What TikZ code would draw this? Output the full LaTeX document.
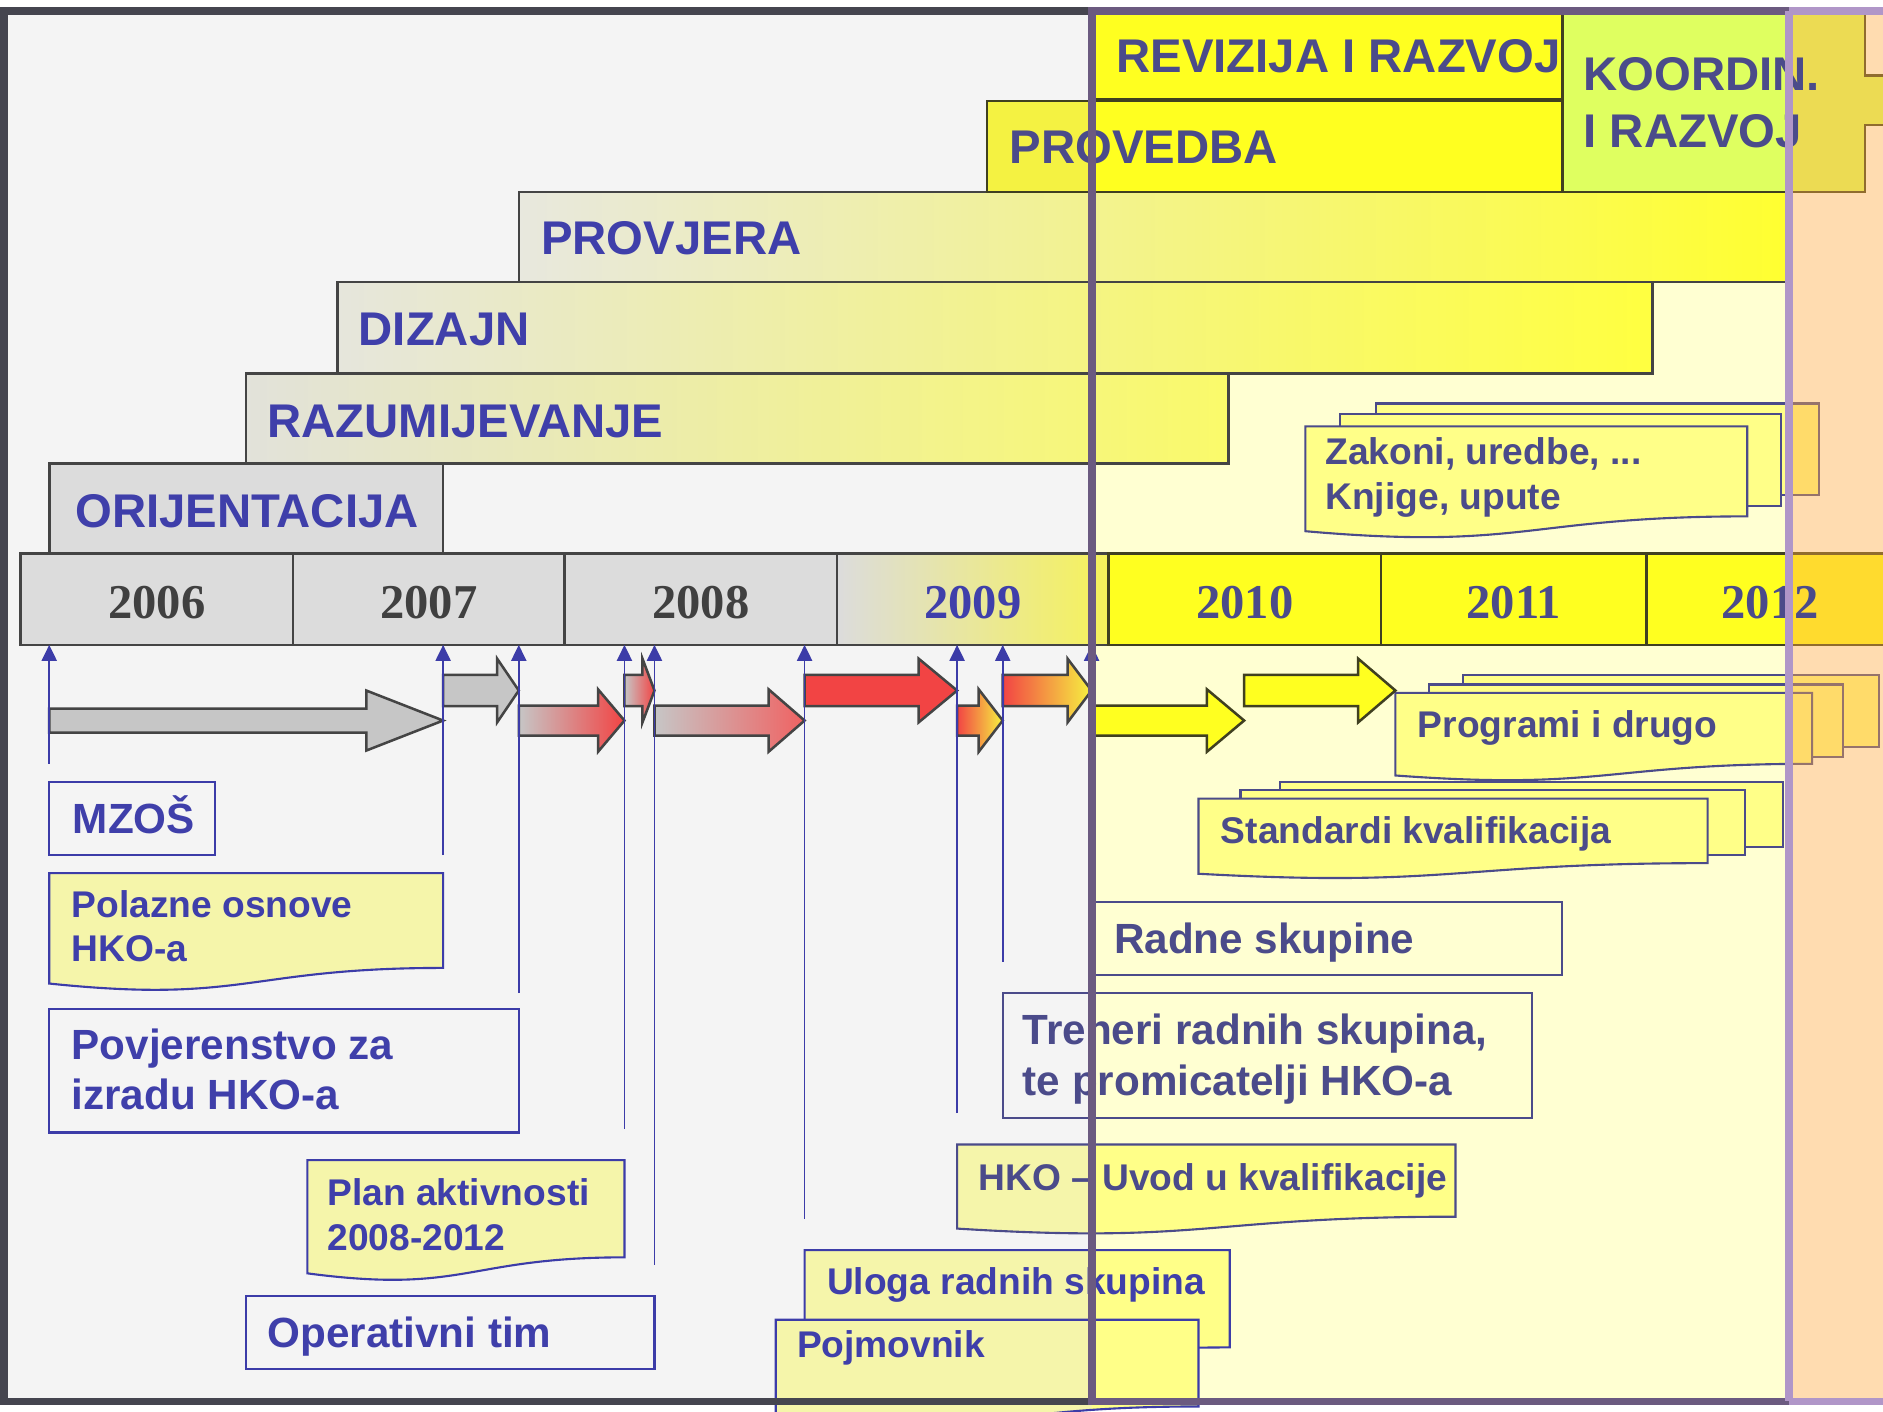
\documentclass[tikz,border=0pt]{standalone}
\usepackage{fontspec}
\setsansfont{Liberation Sans}
\newfontfamily\yearfont{Liberation Serif}
\usetikzlibrary{arrows.meta}

\definecolor{txtblue}{HTML}{3F3FAA}
\definecolor{txtslate}{HTML}{4B4B8A}
\definecolor{lineblue}{HTML}{3C3CA8}
\definecolor{yeargray}{HTML}{404040}
\definecolor{bargray}{HTML}{DCDCDC}
\definecolor{edgegray}{HTML}{444444}
\definecolor{edgeolive}{HTML}{404020}
\definecolor{leftbg}{HTML}{F4F4F4}
\definecolor{rightbg}{HTML}{FFFFD2}
\definecolor{hiyellow}{HTML}{FFFF20}
\definecolor{paleyellow}{HTML}{F4F242}
\definecolor{koordgreen}{HTML}{DFFF60}
\definecolor{docleft}{HTML}{F5F5AA}
\definecolor{docright}{HTML}{FFFF88}
\definecolor{arrowgray}{HTML}{C6C6C6}
\definecolor{arrowred}{HTML}{F24444}
\definecolor{salmon}{HTML}{F06262}
\definecolor{arroworange}{HTML}{F4A040}
\definecolor{arrowyellow}{HTML}{F6F240}
\definecolor{peach}{HTML}{FFAB42}
\definecolor{framegray}{HTML}{45454F}
\definecolor{framepurple}{HTML}{6B5A80}
\definecolor{framelilac}{HTML}{B096C8}
% phase shadings
\definecolor{provjA}{HTML}{E8E8DE}
\definecolor{provjB}{HTML}{F2F2B6}
\definecolor{provjC}{HTML}{FFFF30}
\definecolor{dizA}{HTML}{E6E6DC}
\definecolor{dizB}{HTML}{EDEDC2}
\definecolor{dizC}{HTML}{FFFF40}
\definecolor{razA}{HTML}{E2E2DA}
\definecolor{razB}{HTML}{E8E8CA}
\definecolor{razC}{HTML}{FAFA6A}
\definecolor{yrA}{HTML}{DCDCDC}
\definecolor{yrB}{HTML}{E4E4C8}
\definecolor{yrC}{HTML}{F6F25A}

% document shape: x, y (top left), width, height, options
\newcommand{\docbox}[5]{\path[#5] (#1,#2) -- ({#1+#3},#2) -- ({#1+#3},{#2+0.802*#4})
  .. controls ({#1+0.5*#3},{#2+0.802*#4}) and ({#1+0.5*#3},{#2+1.107*#4}) .. (#1,{#2+0.934*#4}) -- cycle;}
% block arrow: start x, tip x, head x, mid y, half shaft, half head, options
\newcommand{\blockarrow}[7]{\path[#7] (#1,{#4-#5}) -- (#3,{#4-#5}) -- (#3,{#4-#6}) -- (#2,#4)
  -- (#3,{#4+#6}) -- (#3,{#4+#5}) -- (#1,{#4+#5}) -- cycle;}

\begin{document}
\begin{tikzpicture}[x=0.01cm, y=-0.01cm,
  bar/.style={draw=edgegray, line width=0.6pt},
  newbar/.style={draw=edgeolive, line width=0.6pt},
  yearcell/.style={draw=edgegray, line width=0.6pt, anchor=west, inner sep=0, minimum height=0.76cm},
  yeartxt/.style={anchor=base, inner sep=0, text=yeargray, font=\yearfont\bfseries\fontsize{11.5}{13}\selectfont},
  phasetxt/.style={anchor=base west, inner sep=0, text=txtblue, font=\sffamily\bfseries\fontsize{11.2}{13}\selectfont},
  boxtxt/.style={anchor=base west, inner sep=0, text=txtblue, font=\sffamily\bfseries\fontsize{10}{12}\selectfont},
  doctxt/.style={anchor=base west, inner sep=0, text=txtblue, font=\sffamily\bfseries\fontsize{8.8}{10.5}\selectfont},
  textframe/.style={draw=lineblue, line width=0.5pt},
  newframe/.style={draw=txtslate, line width=0.5pt},
  tickline/.style={lineblue, line width=0.4pt, -{Triangle[length=3.8pt,width=3.6pt]}},
  frameline/.style={line width=0.065cm}]

\path[use as bounding box, clip] (0,0) rectangle (1568,1175);

% backgrounds
\fill[leftbg] (3.5,9) rectangle (909,1167);
\fill[rightbg] (909,9) rectangle (1490,1167);

% phases
\draw[bar, left color=provjA, middle color=provjB, right color=provjC] (432,160) rectangle (1490,235);
\draw[bar, left color=dizA, middle color=dizB, right color=dizC] (281,235) rectangle (1376,311);
\draw[bar, left color=razA, middle color=razB, right color=razC] (205,311) rectangle (1023,386);
\draw[bar, fill=bargray] (41,386) rectangle (369,461);
\fill[hiyellow] (822,84) rectangle (1301,160);
\fill[paleyellow] (822,84) rectangle (909,160);
\draw[newbar] (822,84) rectangle (1301,160);
\draw[newbar, fill=hiyellow] (909,10) rectangle (1301,83);
\draw[newbar, fill=koordgreen] (1301,10) -- (1553,10) -- (1553,63) -- (1600,63) -- (1600,104)
  -- (1553,104) -- (1553,160) -- (1301,160) -- cycle;

% years
\node[yearcell, fill=bargray, minimum width=2.27cm] (y2006) at (16,499) {};
\node[yearcell, fill=bargray, minimum width=2.26cm] (y2007) at (243,499) {};
\node[yearcell, fill=bargray, minimum width=2.27cm] (y2008) at (469,499) {};
\node[yearcell, left color=yrA, middle color=yrB, right color=yrC, minimum width=2.26cm] (y2009) at (696,499) {};
\node[yearcell, draw=edgeolive, fill=hiyellow, minimum width=2.27cm] (y2010) at (922,499) {};
\node[yearcell, draw=edgeolive, fill=hiyellow, minimum width=2.21cm] (y2011) at (1149,499) {};
\node[yearcell, draw=edgeolive, fill=hiyellow, minimum width=2.06cm] (y2012) at (1370,499) {};

% stacked papers
\draw[newframe, fill=docright] (1146,336) rectangle (1515,412);
\draw[newframe, fill=docright] (1116,345) rectangle (1483,421);
\docbox{1087}{355}{368}{93.5}{newframe, fill=docright}
\draw[newframe, fill=docright] (1218,562) rectangle (1565,622);
\draw[newframe, fill=docright] (1190,570) rectangle (1535,630);
\docbox{1162}{577}{347}{73.6}{newframe, fill=docright}
\draw[newframe, fill=docright] (1066,651) rectangle (1485,705);
\draw[newframe, fill=docright] (1033,658) rectangle (1453,712);
\docbox{998}{665}{424}{67}{newframe, fill=docright}

% documents on the left
\docbox{41}{727}{328}{98.5}{textframe, fill=docleft}
\docbox{256}{966}{264}{101}{textframe, fill=docleft}

% documents across the line
\docbox{797}{953}{415}{75}{fill=docright}
\begin{scope}
\clip (600,900) rectangle (909,1200);
\docbox{797}{953}{415}{75}{fill=docleft}
\end{scope}
\docbox{797}{953}{415}{75}{newframe}
\docbox{670}{1041}{354}{101}{fill=docright}
\begin{scope}
\clip (600,900) rectangle (909,1200);
\docbox{670}{1041}{354}{101}{fill=docleft}
\end{scope}
\docbox{670}{1041}{354}{101}{textframe}
\docbox{646}{1099}{352}{90}{fill=docright}
\begin{scope}
\clip (600,900) rectangle (909,1200);
\docbox{646}{1099}{352}{90}{fill=docleft}
\end{scope}
\docbox{646}{1099}{352}{90}{textframe}

% arrows, upper row
\blockarrow{369}{432}{414}{575}{13}{26.5}{bar, fill=arrowgray}
\blockarrow{520}{545}{535}{575}{13}{26.5}{bar, left color=arrowgray, right color=arrowred}
\blockarrow{670}{797}{765}{575}{13}{26.5}{bar, fill=arrowred}
\blockarrow{835}{909}{889}{575}{13}{26.5}{bar, left color=arrowred, middle color=arroworange, right color=arrowyellow}
\blockarrow{1036}{1162}{1131}{575}{13}{26.5}{newbar, fill=hiyellow}
% arrows, lower row
\blockarrow{41}{369}{305}{600}{10}{25}{bar, fill=arrowgray}
\blockarrow{432}{520}{498}{600}{12.5}{26}{bar, left color=arrowgray, right color=arrowred}
\blockarrow{545}{670}{640}{600}{12.5}{26}{bar, left color=arrowgray, right color=salmon}
\blockarrow{797}{835}{815}{600}{12.5}{26}{bar, left color=arrowred, middle color=arroworange, right color=arrowyellow}
\blockarrow{909}{1036}{1005}{600}{12.5}{26}{newbar, fill=hiyellow}

% milestones
\foreach \x/\y [count=\i] in {41/636, 369/712, 432/827, 520/940, 545/1053, 670/1015, 797/927, 835/801, 909/726}{
  \coordinate (yb\i) at (\x,537);
  \coordinate (lend\i) at (\x,\y);
  \draw[tickline] (lend\i) -- (yb\i);
}

% plain boxes
\draw[textframe] (41,651) rectangle (179,712);
\draw[textframe] (41,840) rectangle (432,943);
\draw[textframe] (205,1079) rectangle (545,1140);
\draw[newframe] (909,751) rectangle (1301,812);
\draw[newframe] (835,827) rectangle (1276,931);

% far right column
\fill[peach, opacity=0.42] (1490,9) rectangle (1568,1167);

% labels
\node[phasetxt] (orij) at (62,439) {ORIJENTACIJA};
\node[phasetxt] (razum) at (222,364) {RAZUMIJEVANJE};
\node[phasetxt] (dizajn) at (298,288) {DIZAJN};
\node[phasetxt] (provj) at (450,212) {PROVJERA};
\node[phasetxt, text=txtslate] (proved) at (840,136.5) {PROVEDBA};
\node[phasetxt, text=txtslate] (reviz) at (929,60) {REVIZIJA I RAZVOJ};
\node[phasetxt, text=txtslate] (koord) at (1318,75) {KOORDIN.};
\node[phasetxt, text=txtslate] (koordb) at (1318,123) {I RAZVOJ};

\node[yeartxt] (t2006) at ([yshift=-0.16cm]y2006.center) {2006};
\node[yeartxt] (t2007) at ([yshift=-0.16cm]y2007.center) {2007};
\node[yeartxt] (t2008) at ([yshift=-0.16cm]y2008.center) {2008};
\node[yeartxt, text=txtblue] (t2009) at ([yshift=-0.16cm]y2009.center) {2009};
\node[yeartxt, text=txtslate] (t2010) at ([yshift=-0.16cm]y2010.center) {2010};
\node[yeartxt, text=txtslate] (t2011) at ([yshift=-0.16cm]y2011.center) {2011};
\node[yeartxt, text=txtslate] (t2012) at ([yshift=-0.16cm]y2012.center) {2012};

\node[boxtxt] (mzos) at (60,694) {MZOŠ};
\node[doctxt] (polaz) at (59,764) {Polazne osnove};
\node[doctxt] (polazb) at (59,801) {HKO-a};
\node[boxtxt] (povj) at (59,882) {Povjerenstvo za};
\node[boxtxt] (povjb) at (59,924) {izradu HKO-a};
\node[doctxt] (plan) at (272,1004) {Plan aktivnosti};
\node[doctxt] (planb) at (272,1041) {2008-2012};
\node[boxtxt] (optim) at (222,1122) {Operativni tim};
\node[boxtxt, text=txtslate] (radne) at (927,794) {Radne skupine};
\node[boxtxt, text=txtslate] (trener) at (851,870) {Treneri radnih skupina,};
\node[boxtxt, text=txtslate] (trenerb) at (851,912) {te promicatelji HKO-a};
\node[doctxt, text=txtslate] (uvod) at (814,991) {HKO – Uvod u kvalifikacije};
\node[doctxt] (uloga) at (688,1078) {Uloga radnih skupina};
\node[doctxt] (pojm) at (663,1130) {Pojmovnik};
\node[doctxt, text=txtslate] (zakoni) at (1103,387) {Zakoni, uredbe, ...};
\node[doctxt, text=txtslate] (knjige) at (1103,424) {Knjige, upute};
\node[doctxt, text=txtslate] (progr) at (1180,614) {Programi i drugo};
\node[doctxt, text=txtslate] (stand) at (1016,702) {Standardi kvalifikacija};

% frames
\draw[framegray, frameline] (3.5,9) rectangle (909,1167);
\draw[framepurple, frameline] (909,9) rectangle (1490,1167);
\draw[framelilac, frameline] (1490,9) -- (1600,9) (1490,1167) -- (1600,1167) (1490,9) -- (1490,1167);

\end{tikzpicture}
\end{document}
